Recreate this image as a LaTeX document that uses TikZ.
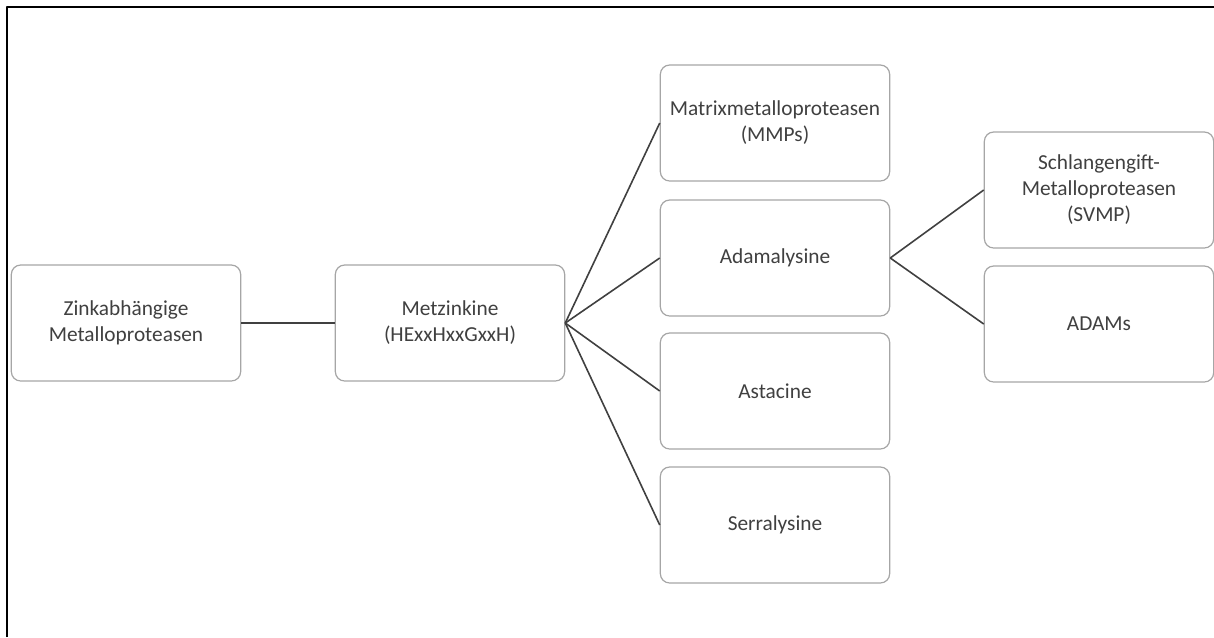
\documentclass[tikz,border=0pt]{standalone}
\usepackage{fontspec}
\setmainfont{Carlito}

\begin{document}
\begin{tikzpicture}[
        x = 0.75pt, y = -0.75pt,
        line join=round,
        box/.style = {draw=black!35, line width=0.9pt, rounded corners=7pt, fill=white,
                      minimum width=172pt, minimum height=87pt, align=center,
                      text=black!75, font=\fontsize{16}{19.5}\selectfont},
        link/.style = {draw=black!75, line width=1.2pt}
    ]

    \useasboundingbox (0, 0) rectangle (1214, 637);
    \draw[line width=1.5pt] (7, 637) -- (7, 7) -- (1214, 7);

    \node[box] (zink)  at (126, 323)  {Zinkabhängige\\Metalloproteasen};
    \node[box] (metz)  at (450, 323)  {Metzinkine\\(HExxHxxGxxH)};
    \node[box] (mmp)   at (775, 123)  {Matrixmetalloproteasen\\(MMPs)};
    \node[box] (adam)  at (775, 258)  {Adamalysine};
    \node[box] (asta)  at (775, 391)  {Astacine};
    \node[box] (serra) at (775, 525)  {Serralysine};
    \node[box] (svmp)  at (1099, 190) {Schlangengift-\\Metalloproteasen\\(SVMP)};
    \node[box] (adams) at (1099, 324) {ADAMs};

    \draw[link] (zink.east) -- (metz.west);
    \foreach \n in {mmp, adam, asta, serra}
        \draw[link] (metz.east) -- (\n.west);
    \draw[link] (adam.east) -- (svmp.west);
    \draw[link] (adam.east) -- (adams.west);
\end{tikzpicture}
\end{document}
